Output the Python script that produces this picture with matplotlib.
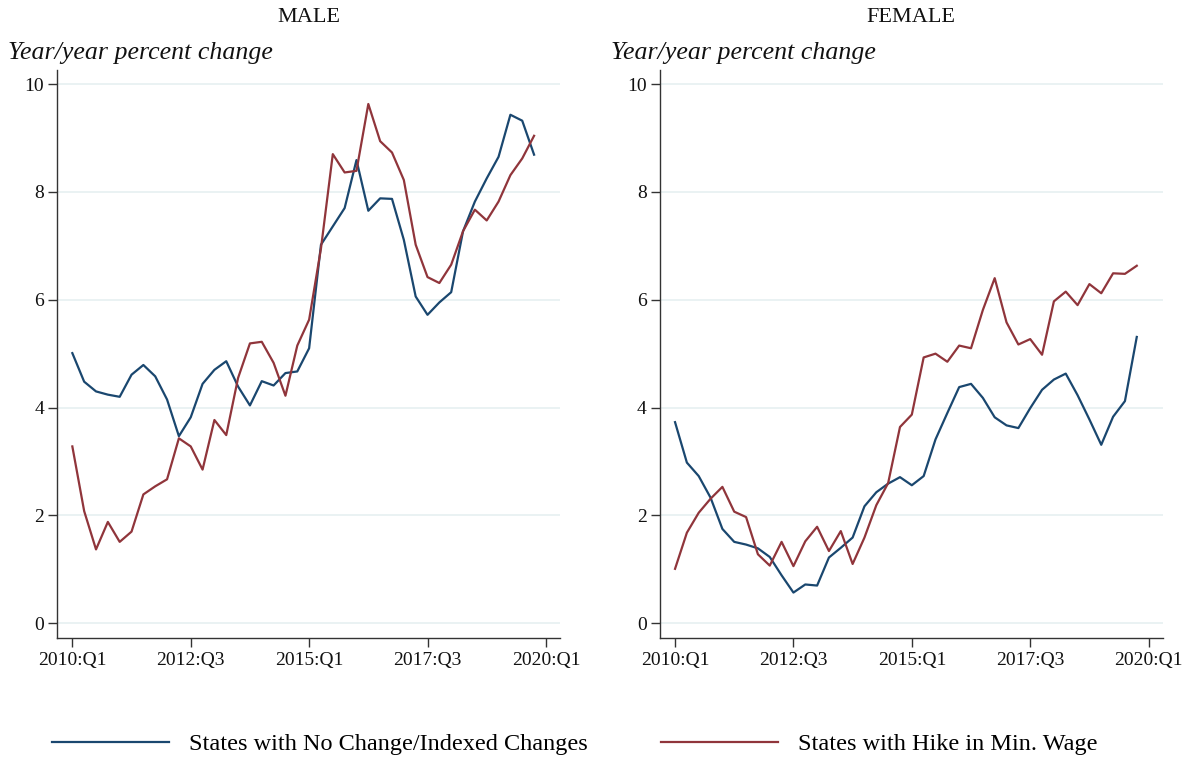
import numpy as np
import matplotlib
matplotlib.use("Agg")
import matplotlib.pyplot as plt

plt.rcParams['font.family'] = ['Liberation Serif', 'DejaVu Serif']

# quarterly data, 2010:Q1 .. 2019:Q4
quarters = np.arange(40)
tick_pos = [0, 10, 20, 30, 40]
tick_labels = ['2010:Q1', '2012:Q3', '2015:Q1', '2017:Q3', '2020:Q1']

male_no_change = [5.01, 4.48, 4.30, 4.24, 4.20, 4.61, 4.79, 4.58, 4.15, 3.47,
                  3.82, 4.44, 4.70, 4.86, 4.39, 4.04, 4.49, 4.41, 4.64, 4.67,
                  5.10, 7.02, 7.36, 7.70, 8.59, 7.65, 7.88, 7.87, 7.11, 6.06,
                  5.72, 5.95, 6.14, 7.27, 7.82, 8.25, 8.65, 9.43, 9.32, 8.69]
male_hike = [3.28, 2.08, 1.37, 1.88, 1.51, 1.70, 2.39, 2.54, 2.67, 3.43,
             3.28, 2.85, 3.77, 3.49, 4.55, 5.19, 5.22, 4.83, 4.22, 5.15,
             5.63, 6.95, 8.70, 8.36, 8.39, 9.63, 8.94, 8.73, 8.22, 7.02,
             6.42, 6.31, 6.65, 7.27, 7.67, 7.47, 7.82, 8.31, 8.62, 9.04]

female_no_change = [3.73, 2.98, 2.73, 2.33, 1.75, 1.51, 1.46, 1.39, 1.23, 0.89,
                    0.57, 0.72, 0.70, 1.22, 1.40, 1.59, 2.17, 2.43, 2.59, 2.71,
                    2.56, 2.73, 3.41, 3.90, 4.38, 4.44, 4.18, 3.82, 3.67, 3.62,
                    3.99, 4.33, 4.52, 4.63, 4.23, 3.78, 3.31, 3.83, 4.12, 5.31]
female_hike = [1.01, 1.68, 2.05, 2.31, 2.53, 2.07, 1.97, 1.28, 1.07, 1.51,
               1.06, 1.52, 1.79, 1.34, 1.71, 1.10, 1.59, 2.19, 2.60, 3.64,
               3.87, 4.93, 5.00, 4.85, 5.15, 5.10, 5.81, 6.40, 5.58, 5.17,
               5.27, 4.98, 5.97, 6.15, 5.90, 6.29, 6.12, 6.49, 6.48, 6.63]

panels = [('MALE', male_no_change, male_hike),
          ('FEMALE', female_no_change, female_hike)]

blue = '#1a476f'
red = '#90353b'
grid_col = '#eaf2f3'
spine_col = '#333333'

fig = plt.figure(figsize=(11.9, 7.59), dpi=100)
W, H = 1190, 759
ax_w, ax_h = 502.7, 567.7
lefts = [57.3, 660.0]
bottom_px = 637.7

for left, (title, s_no, s_hike) in zip(lefts, panels):
    ax = fig.add_axes([left / W, 1 - bottom_px / H, ax_w / W, ax_h / H])
    ax.plot(quarters, s_no, color=blue, lw=1.6, label='States with No Change/Indexed Changes')
    ax.plot(quarters, s_hike, color=red, lw=1.6, label='States with Hike in Min. Wage')
    ax.set_xlim(-1.27, 41.19)
    ax.set_ylim(-0.267, 10.26)
    ax.set_xticks(tick_pos)
    ax.set_xticklabels(tick_labels)
    ax.set_yticks([0, 2, 4, 6, 8, 10])
    ax.yaxis.grid(True, color=grid_col, lw=1.4)
    ax.set_axisbelow(True)
    for s in ['top', 'right']:
        ax.spines[s].set_visible(False)
    for s in ['left', 'bottom']:
        ax.spines[s].set_color(spine_col)
        ax.spines[s].set_linewidth(1.0)
    ax.tick_params(axis='both', length=6.5, width=1.0, color=spine_col,
                   labelsize=14, labelcolor='#111111')
    ax.tick_params(axis='x', pad=4)
    ax.tick_params(axis='y', pad=3)
    ax.text(0.5, (bottom_px - 18) / ax_h, title, transform=ax.transAxes,
            ha='center', va='center', fontsize=16, color='#111111')
    ax.text(-49 / ax_w, (bottom_px - 53) / ax_h, 'Year/year percent change',
            transform=ax.transAxes, ha='left', va='center', fontsize=18.6,
            style='italic', color='#111111')

handles, labels = ax.get_legend_handles_labels()
fig.legend(handles, labels, loc='center left', bbox_to_anchor=(52 / W, 1 - 744 / H),
           ncol=2, frameon=False, fontsize=17.5, handlelength=4.8,
           handletextpad=0.85, columnspacing=3.0, borderpad=0, borderaxespad=0)

fig.savefig('out.png', dpi=100)
